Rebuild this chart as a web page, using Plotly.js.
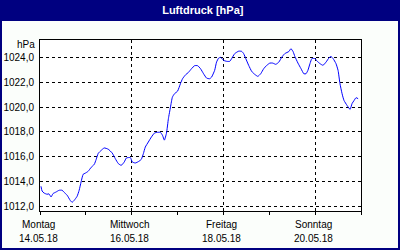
<!DOCTYPE html>
<html>
<head>
<meta charset="utf-8">
<script src="https://cdn.plot.ly/plotly-3.0.1.min.js"></script>
<style>
html,body{margin:0;padding:0;background:#FBFEFB;}
#chart{width:400px;height:250px;}
</style>
</head>
<body>
<div id="chart"></div>
<script>
// Hours since Montag 14.05.18 00:00
const hours = [0.5,1.1,2.1,3.7,4.7,5.8,6.8,8.4,10.0,11.6,12.6,14.2,15.8,16.8,17.9,19.4,20.5,21.5,22.6,23.6,25.2,26.8,28.4,29.4,30.5,32.0,33.6,
35.7,37.8,39.4,41.0,42.5,44.1,45.2,47.3,48.3,49.9,51.5,53.0,54.1,55.1,56.7,58.3,59.9,61.4,63.0,64.1,65.1,66.2,67.2,68.3,69.3,70.4,72.0,73.5,74.6,76.2,77.7,79.3,80.9,82.5,84.0,85.6,87.2,88.8,89.8,91.4,92.4,93.5,94.5,96.1,97.7,99.3,100.3,101.9,104.0,105.6,106.6,107.7,109.2,110.8,112.4,114.0,115.5,117.1,118.7,120.3,121.8,123.4,125.0,126.6,128.1,130.3,131.3,132.4,133.4,135.0,136.6,138.1,139.2,140.2,141.3,142.3,143.9,145.0,146.5,148.1,149.7,151.3,152.3,153.4,154.9,156.0,157.0,158.1,159.1,160.7,162.3,163.3,164.4,165.4,166.5];
const pressure = [1013.61,1013.23,1013.07,1012.97,1013.0,1012.75,1013.02,1013.15,1013.29,1013.29,1013.13,1012.89,1012.48,1012.32,1012.48,1012.8,1013.29,1013.96,1014.58,1014.66,1014.82,1015.14,1015.38,1015.78,1016.27,1016.5,1016.7,
1016.6,1016.29,1015.84,1015.44,1015.3,1015.57,1015.89,1015.92,1015.57,1015.49,1015.6,1015.78,1016.24,1016.77,1017.18,1017.58,1017.9,1017.96,1017.96,1017.72,1017.33,1017.9,1019.06,1020.0,1020.8,1021.07,1021.28,1021.88,1022.28,1022.6,1022.79,1023.09,1023.33,1023.33,1023.09,1022.68,1022.33,1022.28,1022.41,1022.95,1023.62,1023.94,1024.0,1023.76,1023.68,1023.68,1023.9,1024.3,1024.5,1024.48,1024.3,1023.9,1023.36,1022.87,1022.63,1022.47,1022.68,1023.09,1023.36,1023.54,1023.54,1023.44,1023.62,1024.03,1024.3,1024.48,1024.7,1024.48,1024.07,1023.54,1023.09,1022.68,1022.68,1022.95,1023.5,1023.9,1023.9,1023.7,1023.5,1023.36,1023.62,1023.97,1024.07,1023.9,1023.5,1022.95,1021.88,1021.07,1020.53,1020.13,1019.81,1020.27,1020.53,1020.75,1020.67];

const titleText = 'Luftdruck [hPa]';
const unitText = 'hPa';
const dayNames = ['Montag','Mittwoch','Freitag','Sonntag'];
const dayDates = ['14.05.18','16.05.18','18.05.18','20.05.18'];
const dayHours = [0,48,96,144];
const yTicks = [1012,1014,1016,1018,1020,1022,1024];

const FONT = 'Liberation Sans, Arial, sans-serif';
const navy = '#000080';
const W = 400, H = 250, L = 40, R = 39, T = 40, B = 39;
const pw = W - L - R, ph = H - T - B;
const px = v => (v - L) / pw;           // pixel x -> paper
const py = v => (H - B - v) / ph;       // pixel y -> paper

const annotations = [];
dayHours.forEach((h, i) => {
  annotations.push({x: h, xref: 'x', y: 0, yref: 'paper', yshift: -13, xshift: -2,
    text: dayNames[i], showarrow: false, xanchor: 'center', yanchor: 'middle',
    font: {family: FONT, size: 10, color: '#000'}});
  annotations.push({x: h, xref: 'x', y: 0, yref: 'paper', yshift: -27.5, xshift: -2,
    text: dayDates[i], showarrow: false, xanchor: 'center', yanchor: 'middle',
    font: {family: FONT, size: 10, color: '#000'}});
});
annotations.push({x: px(37), xref: 'paper', y: py(44.5), yref: 'paper', text: unitText,
  showarrow: false, xanchor: 'right', yanchor: 'middle',
  font: {family: FONT, size: 10, color: '#000'}});

const shapes = [
  {type: 'rect', xref: 'paper', yref: 'paper', x0: px(0), x1: px(400), y0: py(21), y1: py(0),
   fillcolor: navy, line: {width: 0}, layer: 'below'},
  {type: 'rect', xref: 'paper', yref: 'paper', x0: px(1), x1: px(399), y0: py(249), y1: py(20),
   fillcolor: 'rgba(0,0,0,0)', line: {color: navy, width: 2}, layer: 'above'}
];

const trace = {x: hours, y: pressure, type: 'scatter', mode: 'lines',
  line: {color: '#0000FF', width: 1, shape: 'spline', smoothing: 0.5},
  hoverinfo: 'skip'};

const layout = {
  width: W, height: H,
  margin: {l: L, r: R, t: T, b: B, pad: 0},
  paper_bgcolor: '#FBFEFB', plot_bgcolor: '#FFFFFF',
  separators: ',.',
  showlegend: false,
  title: {text: titleText, x: 0.507, xanchor: 'center', y: 1 - 10.5 / H, yanchor: 'middle',
    font: {family: FONT, size: 11, color: '#FFFFFF', weight: 'bold'}},
  xaxis: {range: [0, 168], tickmode: 'array', tickvals: dayHours, showticklabels: false,
    ticks: 'outside', ticklen: 3, tickcolor: '#000', tickwidth: 1,
    showgrid: true, gridcolor: '#000', gridwidth: 1, griddash: '3px,3px',
    minor: {dtick: 24, tick0: 0, ticks: 'outside', ticklen: 3, tickcolor: '#000', showgrid: false},
    showline: true, linecolor: '#000', linewidth: 1, mirror: true, zeroline: false, fixedrange: true},
  yaxis: {range: [1011.62, 1025.4], tickmode: 'array', tickvals: yTicks, tickformat: '.1f',
    ticks: '', ticklabelstandoff: 3,
    tickfont: {family: FONT, size: 10, color: '#000'},
    showgrid: true, gridcolor: '#000', gridwidth: 1, griddash: '3px,3px',
    showline: true, linecolor: '#000', linewidth: 1, mirror: true, zeroline: false, fixedrange: true},
  annotations: annotations,
  shapes: shapes
};

Plotly.newPlot('chart', [trace], layout, {staticPlot: true, displayModeBar: false});
</script>
</body>
</html>
